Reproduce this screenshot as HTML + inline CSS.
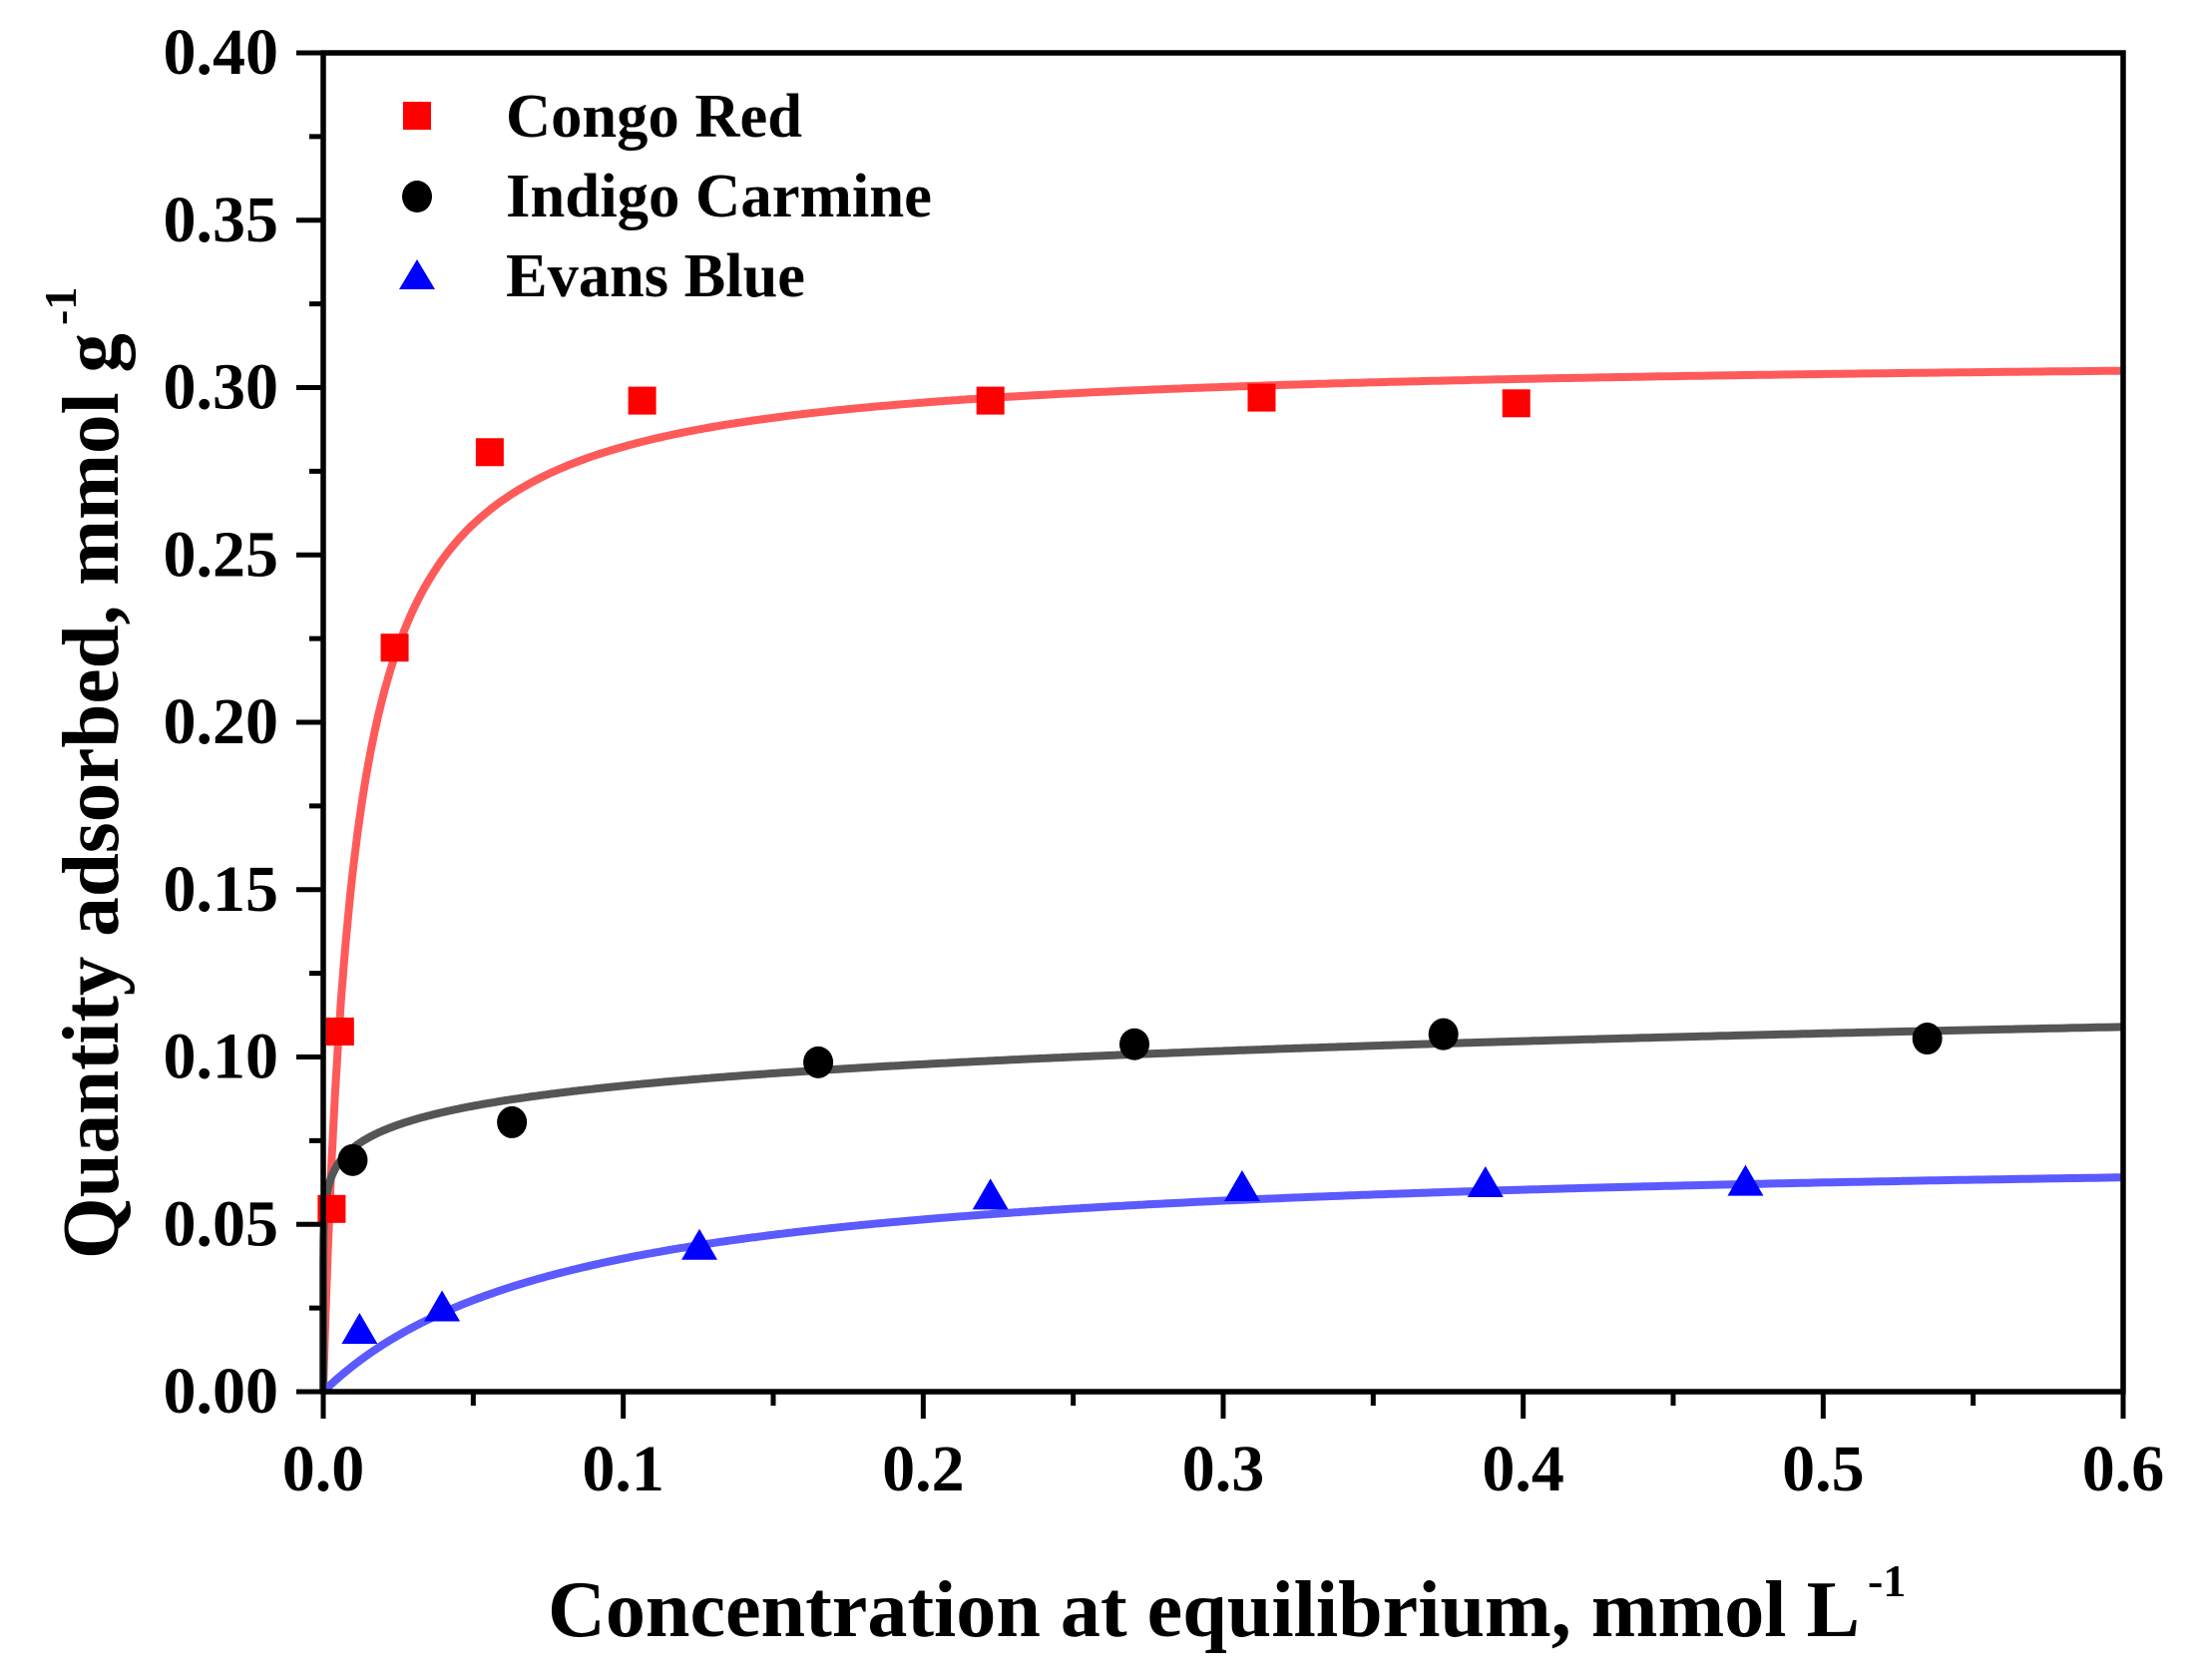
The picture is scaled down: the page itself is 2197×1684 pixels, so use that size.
<!DOCTYPE html>
<html><head><meta charset="utf-8"><style>
html,body{margin:0;padding:0;background:#fff;}
svg{display:block;}
text{font-family:"Liberation Serif",serif;font-weight:bold;fill:#000;}
</style></head><body>
<svg id="chart" width="2197" height="1684" viewBox="0 0 2197 1684">
<g id="curves"></g>
<g id="marks"></g>
<g id="axes"></g>
<text x="549" y="1640" font-size="80" textLength="1315" lengthAdjust="spacingAndGlyphs">Concentration at equilibrium, mmol L</text>
<text x="1872" y="1600" font-size="46">-1</text>
<text transform="translate(118,1262) rotate(-90)" font-size="80" textLength="928" lengthAdjust="spacingAndGlyphs">Quantity adsorbed, mmol g</text>
<text transform="translate(76,326) rotate(-90)" font-size="46">-1</text>
<g>
  <rect x="404" y="102" width="28" height="28" fill="#ff0000"/>
  <text x="507" y="137" font-size="62" textLength="297" lengthAdjust="spacingAndGlyphs">Congo Red</text>
  <ellipse cx="418" cy="197" rx="15" ry="16" fill="#000"/>
  <text x="507" y="217" font-size="62" textLength="427" lengthAdjust="spacingAndGlyphs">Indigo Carmine</text>
  <polygon points="418,260 400,290 436,290" fill="#0000ff"/>
  <text x="507" y="297" font-size="62" textLength="300" lengthAdjust="spacingAndGlyphs">Evans Blue</text>
</g>
</svg>
<script>
const congoX=[0.0028,0.0056,0.0238,0.0555,0.1063,0.2224,0.3128,0.3977];
const congoY=[0.0546,0.1076,0.2223,0.2807,0.2961,0.2961,0.2970,0.2953];
const indigoX=[0.0098,0.0629,0.1650,0.2704,0.3734,0.5347];
const indigoY=[0.0692,0.0805,0.0984,0.1038,0.1068,0.1055];
const evansX=[0.0121,0.0396,0.1254,0.2224,0.3063,0.3874,0.4741];
const evansY=[0.0179,0.0246,0.0430,0.0580,0.0605,0.0617,0.0621];
const congoFit=[0.31,102];      // Langmuir qm, K
const indigoFit=[0.1146,0.0983]; // Freundlich Kf, 1/n
const evansFit=[0.0729,12];     // Langmuir qm, K
const xTicks=[0,0.1,0.2,0.3,0.4,0.5,0.6];
const xTickLabels=["0.0","0.1","0.2","0.3","0.4","0.5","0.6"];
const yTicks=[0,0.05,0.10,0.15,0.20,0.25,0.30,0.35,0.40];
const yTickLabels=["0.00","0.05","0.10","0.15","0.20","0.25","0.30","0.35","0.40"];

const X0=324,X1=2128,Y0=1395,Y1=53;
const sx=v=>X0+(v/0.6)*(X1-X0);
const sy=v=>Y0-(v/0.4)*(Y0-Y1);
const NS='http://www.w3.org/2000/svg';
function mk(tag,attrs,parent){const e=document.createElementNS(NS,tag);for(const k in attrs)e.setAttribute(k,attrs[k]);parent.appendChild(e);return e;}

const curves=document.getElementById('curves');
function curve(fn,color,name){
  let d='';
  for(let i=0;i<=600;i++){const c=0.6*Math.pow(i/600,2);const q=fn(c);d+=(i?'L':'M')+sx(c).toFixed(1)+','+sy(q).toFixed(1);}
  const p=mk('path',{d:d,fill:'none',stroke:color,'stroke-width':8},curves);
  
  
}
curve(c=>congoFit[0]*congoFit[1]*c/(1+congoFit[1]*c),'#ff5a5a','congo-red-fit');
curve(c=>c<=0?0:indigoFit[0]*Math.pow(c,indigoFit[1]),'#555555','indigo-carmine-fit');
curve(c=>evansFit[0]*evansFit[1]*c/(1+evansFit[1]*c),'#5a5aff','evans-blue-fit');

const marks=document.getElementById('marks');
congoX.forEach((x,i)=>{
  const r=mk('rect',{x:sx(x)-14,y:sy(congoY[i])-14,width:28,height:28,fill:'#ff0000'},marks);
  
  
});
indigoX.forEach((x,i)=>{
  const r=mk('ellipse',{cx:sx(x),cy:sy(indigoY[i]),rx:15,ry:16,fill:'#000'},marks);
  
  
});
evansX.forEach((x,i)=>{
  const cx=sx(x),cy=sy(evansY[i]);
  const r=mk('polygon',{points:`${cx},${cy-19} ${cx-18},${cy+12} ${cx+18},${cy+12}`,fill:'#0000ff'},marks);
  
  
});

const axes=document.getElementById('axes');
const frame=mk('rect',{x:X0,y:Y1,width:X1-X0,height:Y0-Y1,fill:'none',stroke:'#000','stroke-width':5.5},axes);


for(let i=0;i<=12;i++){
  const v=i*0.05,x=sx(v),major=i%2===0;
  const t=mk('line',{x1:x,y1:Y0,x2:x,y2:Y0+(major?27:14),stroke:'#000','stroke-width':5},axes);
  
  
}
xTicks.forEach((v,i)=>{
  const t=mk('text',{x:sx(v),y:1494,'font-size':66,'text-anchor':'middle'},axes);
  t.textContent=xTickLabels[i];
  
  
});
for(let i=0;i<=16;i++){
  const v=i*0.025,y=sy(v),major=i%2===0;
  const t=mk('line',{x1:X0,y1:y,x2:X0-(major?27:14),y2:y,stroke:'#000','stroke-width':5},axes);
  
  
}
yTicks.forEach((v,i)=>{
  const t=mk('text',{x:279,y:sy(v)+21,'font-size':66,'text-anchor':'end'},axes);
  t.textContent=yTickLabels[i];
  
  
});
</script>
</body></html>
